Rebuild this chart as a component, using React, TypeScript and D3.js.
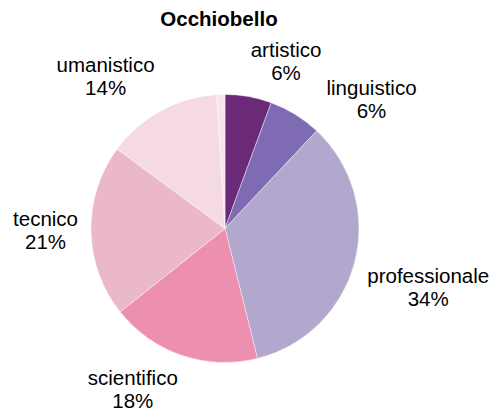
import React, { useEffect, useMemo } from "react";
import * as d3 from "d3";

const title = "Occhiobello";
const categories = ["artistico", "linguistico", "professionale", "scientifico", "tecnico", "umanistico", ""];
const values = [5.6, 6.4, 34.1, 18.2, 20.8, 13.9, 1.0];
const colors = ["#6b2a78", "#7f6bb3", "#b2a7cc", "#ed8fae", "#ebb8c8", "#f5dae3", "#f8e4eb"];

const W = 490;
const H = 411;
const CX = 225;
const CY = 228.5;
const R = 134;
const LABEL_R = 147;
const FS = 20.5;
const LINE = 23;
const PAD = 5;

function measure(text: string, font: string): number {
  const c = document.createElement("canvas");
  const ctx = c.getContext("2d");
  if (!ctx) return text.length * FS * 0.5;
  ctx.font = font;
  return ctx.measureText(text).width;
}

type Box = { x: number; y: number; w: number; h: number };

function overlap(a: Box, b: Box) {
  return (
    a.x < b.x + b.w + PAD &&
    b.x < a.x + a.w + PAD &&
    a.y < b.y + b.h &&
    b.y < a.y + a.h
  );
}

export default function App() {
  useEffect(() => {
    document.body.style.margin = "0";
  }, []);

  const total = d3.sum(values);
  const arcs = useMemo(
    () =>
      d3
        .pie<number>()
        .sort(null)
        .value((d) => d)(values),
    []
  );
  const arcGen = d3.arc<d3.PieArcDatum<number>>().innerRadius(0).outerRadius(R);

  const labels = useMemo(() => {
    const font = `${FS}px "Liberation Sans", Arial, sans-serif`;
    const placed: Box[] = [];
    const out: { lines: string[]; box: Box }[] = [];
    arcs.forEach((a, i) => {
      if (!categories[i]) return;
      const pct = Math.round((values[i] / total) * 100) + "%";
      const lines = [categories[i], pct];
      const w = Math.max(...lines.map((l) => measure(l, font)));
      const h = 44;
      const mid = (a.startAngle + a.endAngle) / 2;
      const place = (ang: number): Box => {
        const ax = CX + LABEL_R * Math.sin(ang);
        const ay = CY - LABEL_R * Math.cos(ang);
        const s = Math.sin(ang);
        const c = Math.cos(ang);
        const x = s > 0.1 ? ax : s < -0.1 ? ax - w : ax - w / 2;
        const y = c > 0.1 ? ay - h : c < -0.1 ? ay : ay - h / 2;
        return { x, y, w, h };
      };
      let ang = mid;
      let box = place(ang);
      let guard = 0;
      while (placed.some((p) => overlap(p, box)) && guard < 200) {
        ang += (0.5 * Math.PI) / 180;
        box = place(ang);
        guard++;
      }
      placed.push(box);
      out.push({ lines, box });
    });
    return out;
  }, [arcs, total]);

  return (
    <svg width={W} height={H} style={{ display: "block" }} fontFamily='"Liberation Sans", Arial, sans-serif'>
      <rect width={W} height={H} fill="#ffffff" />
      <text x={219} y={26} textAnchor="middle" fontSize={20.5} fontWeight="bold" fill="#000">
        {title}
      </text>
      <g transform={`translate(${CX},${CY})`}>
        {arcs.map((a, i) => (
          <path key={i} d={arcGen(a) || ""} fill={colors[i]} stroke="#ffffff" strokeWidth={0.6} strokeOpacity={0.7} />
        ))}
      </g>
      {labels.map((l, i) => (
        <text key={i} fontSize={FS} fill="#000" textAnchor="middle">
          {l.lines.map((t, j) => (
            <tspan key={j} x={l.box.x + l.box.w / 2} y={l.box.y + 17 + j * LINE}>
              {t}
            </tspan>
          ))}
        </text>
      ))}
    </svg>
  );
}
